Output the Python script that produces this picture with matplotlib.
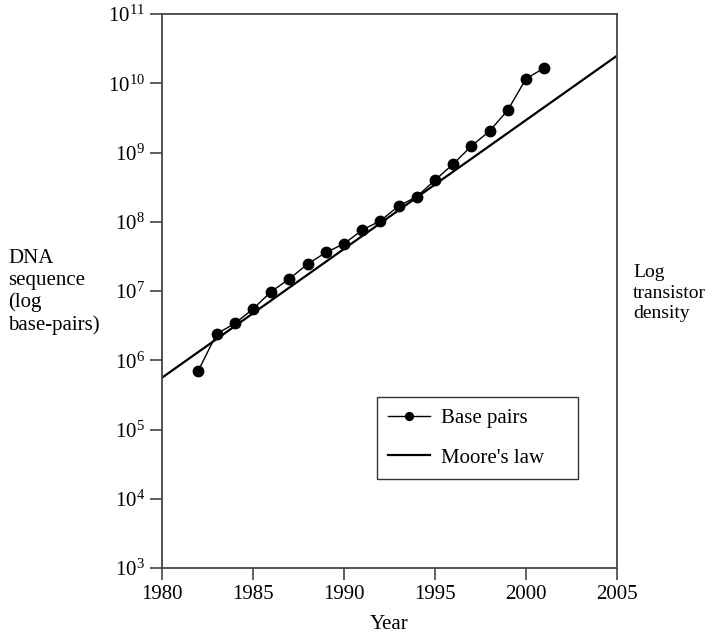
import matplotlib.pyplot as plt
from matplotlib.ticker import LogLocator, LogFormatterMathtext, NullLocator

plt.rcParams['font.family'] = ['Liberation Serif', 'DejaVu Serif']
plt.rcParams['mathtext.fontset'] = 'custom'
plt.rcParams['mathtext.rm'] = 'Liberation Serif'
plt.rcParams['mathtext.it'] = 'Liberation Serif:italic'

# sequenced base pairs per year
years = [1982, 1983, 1984, 1985, 1986, 1987, 1988, 1989, 1990, 1991,
         1992, 1993, 1994, 1995, 1996, 1997, 1998, 1999, 2000, 2001]
base_pairs = [7.1e5, 2.4e6, 3.4e6, 5.5e6, 9.8e6, 1.5e7, 2.45e7, 3.6e7, 4.8e7, 7.6e7,
              1.03e8, 1.69e8, 2.3e8, 4.0e8, 6.8e8, 1.24e9, 2.04e9, 4.1e9, 1.16e10, 1.66e10]

# Moore's law trend end points
moore_years = [1980, 2005]
moore_values = [5.6e5, 2.5e10]

x_ticks = [1980, 1985, 1990, 1995, 2000, 2005]

fig = plt.figure(figsize=(7.16, 6.36), dpi=100)
ax = fig.add_axes([162 / 716, 1 - 568 / 636, 455 / 716, 554 / 636])

ax.plot(years, base_pairs, color='black', lw=1.0, marker='o', ms=7.5,
        label='Base pairs')
ax.plot(moore_years, moore_values, color='black', lw=1.6, label="Moore's law")

ax.set_yscale('log')
ax.set_xlim(1980, 2005)
ax.set_ylim(1e3, 1e11)
ax.set_xticks(x_ticks)
ax.yaxis.set_major_locator(LogLocator(base=10, numticks=20))
ax.yaxis.set_major_formatter(LogFormatterMathtext())
ax.yaxis.set_minor_locator(NullLocator())
ax.tick_params(direction='out', length=8.5, width=1.2, color='#444444',
               labelsize=15, pad=4)
for s in ax.spines.values():
    s.set_color('#444444')
    s.set_linewidth(1.3)

ax.set_xlabel('Year', fontsize=15, labelpad=8)

fig.text(8 / 716, 1 - 292 / 636, 'DNA\nsequence\n(log\nbase-pairs)',
         fontsize=15, ha='left', va='center', linespacing=1.2)
fig.text(633 / 716, 1 - 293 / 636, 'Log\ntransistor\ndensity',
         fontsize=14, ha='left', va='center', linespacing=1.3)

# legend box spans a fixed width; height comes from the padding
leg_box = ((377 - 162) / 455, (568 - 479) / 554, 201 / 455, 87 / 554)
leg = ax.legend(loc='lower left', bbox_to_anchor=leg_box, mode='expand',
                borderaxespad=0, fontsize=15,
                frameon=True, fancybox=False, edgecolor='black',
                handlelength=2.0, borderpad=0.55, labelspacing=0.95,
                handletextpad=0.5, markerscale=0.75)
leg.get_frame().set_linewidth(1.0)

fig.savefig('out.png', dpi=100)
